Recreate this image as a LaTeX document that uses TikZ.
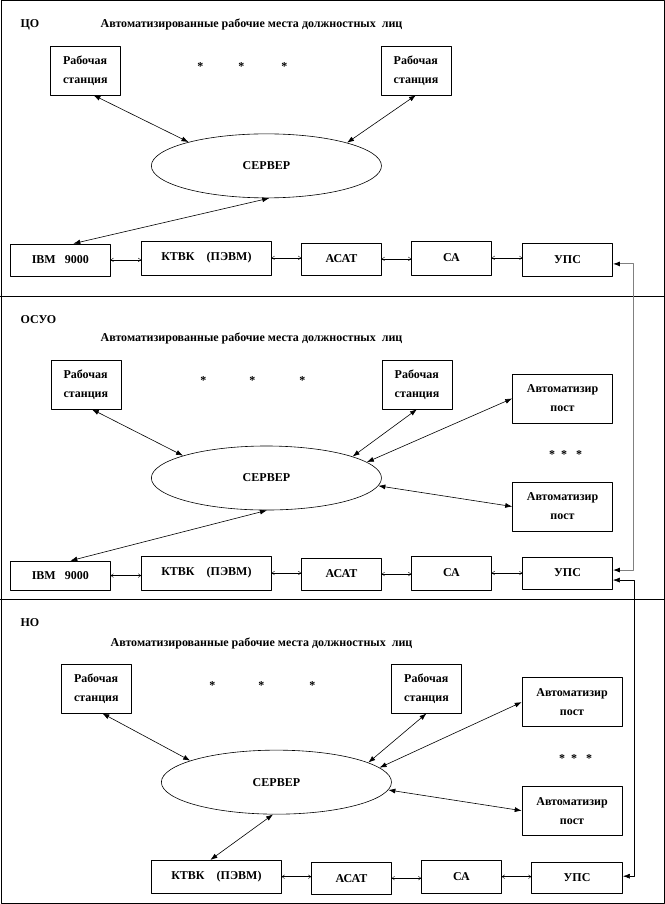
\documentclass[tikz,border=0pt]{standalone}
\usepackage{fontspec}
\setmainfont{Liberation Serif}
\usetikzlibrary{shapes.geometric,arrows.meta}

\tikzset{
  lbl/.style={font=\fontsize{12}{19}\selectfont\bfseries, inner sep=0pt},
  wsbox/.style={draw, lbl, minimum width=70, minimum height=49, align=left},
  apbox/.style={draw, lbl, minimum width=100, minimum height=49, align=center},
  rowbox/.style={draw, lbl, minimum width=#1, minimum height=33},
  srvell/.style={draw, ellipse, lbl, minimum width=230, minimum height=64},
  link/.style={{Latex[length=7pt,width=5pt,color=black]}-{Latex[length=7pt,width=5pt,color=black]}},
  chain/.style={{To[length=3pt,width=4pt]}-{To[length=3pt,width=4pt]}, line width=0.4pt},
}

\begin{document}
\begin{tikzpicture}[x=1pt, y=-1pt, line width=0.6pt, line join=round]
  % рамка и разделители
  \draw (0.5,0.5) rectangle (663.5,903.5);
  \draw (0,296)--(664,296);
  \draw (0,599)--(664,599);

  % ЦО
  \node[lbl, anchor=west] (co) at (20,25) {ЦО};
  \node[lbl, anchor=west] (tit1) at (100,25) {Автоматизированные рабочие места должностных\ \ лиц};
  \node[wsbox] (wsa1) at (85,70.5) {Рабочая\\станция};
  \node[wsbox] (wsb1) at (415.5,70.5) {Рабочая\\станция};
  \foreach \sx [count=\i] in {200,241,284} \node[lbl] (sta\i) at (\sx,67) {*};
  \node[srvell] (srv1) at (266,166) {СЕРВЕР};
  \node[rowbox=100, minimum height=32] (ibm1) at (60,260) {IBM\ \ \ 9000\hspace{10pt}};
  \node[rowbox=130, minimum height=34] (ktvk1) at (206,258) {КТВК\ \ \ \ (ПЭВМ)};
  \node[rowbox=80, minimum height=32] (asat1) at (341,259) {АСАТ};
  \node[rowbox=80, minimum height=34] (sa1) at (451,258) {СА};
  \node[rowbox=90, minimum height=33] (ups1) at (567,259.5) {УПС};
  \draw[link] (wsa1.-72) -- (srv1.163);
  \draw[link] (wsb1.south) -- (srv1.16);
  \draw[link] (srv1.-85) -- ([xshift=13pt]ibm1.north);
  \draw[chain] (ibm1.east) -- (ibm1.east -| ktvk1.west);
  \draw[chain] (ktvk1.east) -- (ktvk1.east -| asat1.west);
  \draw[chain] (asat1.east) -- (asat1.east -| sa1.west);
  \draw[chain] (sa1.east) -- (sa1.east -| ups1.west);

  % ОСУО
  \node[lbl, anchor=west] (osuo) at (20,320) {ОСУО};
  \node[lbl, anchor=west] (tit2) at (100,339) {Автоматизированные рабочие места должностных\ \ лиц};
  \node[wsbox] (wsa2) at (85.5,384.5) {Рабочая\\станция};
  \node[wsbox] (wsb2) at (416.5,384.5) {Рабочая\\станция};
  \foreach \sx [count=\i] in {203,252,302} \node[lbl] (stb\i) at (\sx,381) {*};
  \node[apbox] (apa2) at (562,398.5) {Автоматизир\\пост};
  \node[lbl] (stc2) at (565,455) {*\ \ *\ \ \ *};
  \node[apbox] (apb2) at (562,506.5) {Автоматизир\\пост};
  \node[srvell] (srv2) at (266,478) {СЕРВЕР};
  \node[rowbox=100, minimum height=29] (ibm2) at (60,575.5) {IBM\ \ \ 9000\hspace{10pt}};
  \node[rowbox=130, minimum height=34] (ktvk2) at (206,573) {КТВК\ \ \ \ (ПЭВМ)};
  \node[rowbox=80, minimum height=32] (asat2) at (341,574) {АСАТ};
  \node[rowbox=80, minimum height=34] (sa2) at (451,573) {СА};
  \node[rowbox=90, minimum height=32] (ups2) at (567,573) {УПС};
  \draw[link] ([xshift=6pt]wsa2.south) -- (srv2.165);
  \draw[link] (wsb2.south) -- (srv2.14);
  \draw[link] (srv2.9) -- (apa2.west);
  \draw[link] (srv2.-4) -- (apb2.west);
  \draw[link] (srv2.-89) -- ([xshift=10pt]ibm2.north);
  \draw[chain] (ibm2.east) -- (ibm2.east -| ktvk2.west);
  \draw[chain] (ktvk2.east) -- (ktvk2.east -| asat2.west);
  \draw[chain] (asat2.east) -- (asat2.east -| sa2.west);
  \draw[chain] (sa2.east) -- (sa2.east -| ups2.west);

  % НО
  \node[lbl, anchor=west] (no) at (20,623) {НО};
  \node[lbl, anchor=west] (tit3) at (110,643) {Автоматизированные рабочие места должностных\ \ лиц};
  \node[wsbox] (wsa3) at (96,688.5) {Рабочая\\станция};
  \node[wsbox] (wsb3) at (426,688.5) {Рабочая\\станция};
  \foreach \sx [count=\i] in {212,261,312} \node[lbl] (std\i) at (\sx,685) {*};
  \node[apbox] (apa3) at (571.5,702) {Автоматизир\\пост};
  \node[lbl] (ste3) at (575,758) {*\ \ *\ \ \ *};
  \node[apbox] (apb3) at (571.5,810.5) {Автоматизир\\пост};
  \node[srvell] (srv3) at (276,782) {СЕРВЕР};
  \node[rowbox=130, minimum height=33] (ktvk3) at (216,876.5) {КТВК\ \ \ \ (ПЭВМ)};
  \node[rowbox=80, minimum height=32] (asat3) at (351,878) {АСАТ};
  \node[rowbox=80, minimum height=33] (sa3) at (461,876.5) {СА};
  \node[rowbox=91, minimum height=31] (ups3) at (576.5,877.5) {УПС};
  \draw[link] ([xshift=6pt]wsa3.south) -- (srv3.166);
  \draw[link] (wsb3.south) -- (srv3.12);
  \draw[link] (srv3.8) -- (apa3.west);
  \draw[link] (srv3.-4) -- (apb3.west);
  \draw[link] (srv3.-96) -- ([xshift=-6pt]ktvk3.north);
  \draw[chain] (ktvk3.east) -- (ktvk3.east -| asat3.west);
  \draw[chain] (asat3.east) -- (asat3.east -| sa3.west);
  \draw[chain] (sa3.east) -- (sa3.east -| ups3.west);

  % связи между УПС
  \draw[link, draw=gray, line width=1pt] ([yshift=-4.5pt]ups1.east) -- ++(21,0) |- ([yshift=3pt]ups2.east);
  \draw[link] ([yshift=-7pt]ups2.east) -- ++(21,0) |- ([yshift=1.5pt]ups3.east);
\end{tikzpicture}
\end{document}
